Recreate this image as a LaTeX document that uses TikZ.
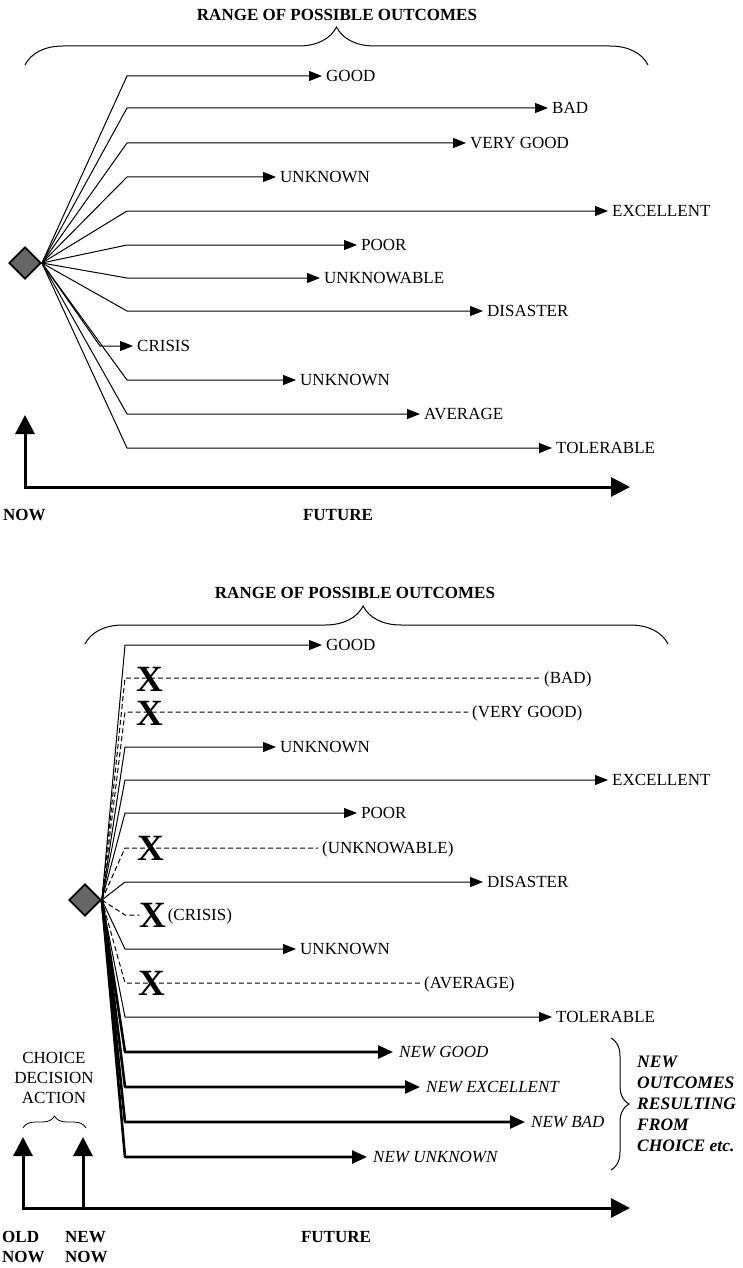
\documentclass[tikz,border=0pt]{standalone}
\usepackage{fontspec}
\setmainfont{Liberation Serif}
\usepackage{tikz}
\usetikzlibrary{positioning}
\usetikzlibrary{shapes.geometric}
\usetikzlibrary{arrows.meta}
\usetikzlibrary{decorations.pathreplacing}

\begin{document}
\begin{tikzpicture}[x=1pt, y=-1pt,
		decision/.style={
			draw,
			diamond,
			line width=1.8pt,
			fill=black!60,
			minimum size=32pt,
			inner sep=0pt,
		},
		branch/.style={line width=1pt, line join=round, -{Triangle[length=13pt,width=10pt]}},
		gone/.style={line width=1pt, dash pattern=on 5pt off 3pt},
		newbranch/.style={line width=2.6pt, line join=round, -{Triangle[length=15pt,width=13pt]}},
		axis/.style={line width=3pt, {Triangle[length=19pt,width=19pt]}-{Triangle[length=19pt,width=19pt]}},
		upaxis/.style={line width=3pt, -{Triangle[length=19pt,width=19pt]}},
		outcome/.style={anchor=west, inner xsep=4pt, inner ysep=0pt, text height=11pt, text depth=0pt, font=\fontsize{17}{20}\selectfont},
		newoutcome/.style={outcome, inner xsep=6pt, font=\fontsize{17}{20}\selectfont\itshape},
		heading/.style={inner sep=0pt, align=left, font=\fontsize{17}{20}\selectfont\bfseries},
		cross/.style={inner sep=0pt, text height=24pt, text depth=0pt, font=\fontsize{37}{37}\selectfont\bfseries},
		bracket/.style={decorate, line width=1pt},
	]
		\useasboundingbox (0,0) rectangle (742,1268);

		% before the choice
		\node[heading] (rangeA) at (337,15) {RANGE OF POSSIBLE OUTCOMES};
		\draw[bracket, decoration={brace, amplitude=38pt}] (25,65) -- (648,65);

		\node[decision] (dA) at (25,263) {};
		\coordinate (cA) at (127,0);
		\coordinate (cAs) at (100,0);

		\node[outcome] (goodA) at (322,76) {GOOD};
		\node[outcome] (badA) at (548,108) {BAD};
		\node[outcome] (verygoodA) at (466,143) {VERY GOOD};
		\node[outcome] (unknownA) at (276,177) {UNKNOWN};
		\node[outcome] (excellentA) at (608,211) {EXCELLENT};
		\node[outcome] (poorA) at (357,245) {POOR};
		\node[outcome] (unknowableA) at (320,278) {UNKNOWABLE};
		\node[outcome] (disasterA) at (483,311) {DISASTER};
		\node[outcome] (crisisA) at (133,346) {CRISIS};
		\node[outcome] (unknownAA) at (296,380) {UNKNOWN};
		\node[outcome] (averageA) at (420,414) {AVERAGE};
		\node[outcome] (tolerableA) at (552,448) {TOLERABLE};

		\draw[branch] (dA.east) -- (cA |- goodA.west) -- (goodA.west);
		\draw[branch] (dA.east) -- (cA |- badA.west) -- (badA.west);
		\draw[branch] (dA.east) -- (cA |- verygoodA.west) -- (verygoodA.west);
		\draw[branch] (dA.east) -- (cA |- unknownA.west) -- (unknownA.west);
		\draw[branch] (dA.east) -- (cA |- excellentA.west) -- (excellentA.west);
		\draw[branch] (dA.east) -- (cA |- poorA.west) -- (poorA.west);
		\draw[branch] (dA.east) -- (cA |- unknowableA.west) -- (unknowableA.west);
		\draw[branch] (dA.east) -- (cA |- disasterA.west) -- (disasterA.west);
		\draw[branch] (dA.east) -- (cAs |- crisisA.west) -- (crisisA.west);
		\draw[branch] (dA.east) -- (cA |- unknownAA.west) -- (unknownAA.west);
		\draw[branch] (dA.east) -- (cA |- averageA.west) -- (averageA.west);
		\draw[branch] (dA.east) -- (cA |- tolerableA.west) -- (tolerableA.west);

		\coordinate (upA) at (25,415);
		\coordinate (endA) at (630,487);
		\draw[axis] (upA) |- (endA);
		\node[heading, anchor=west] (nowA) at (3,515) {NOW};
		\node[heading] (futureA) at (338,515) {FUTURE};

		% after the choice
		\node[heading] (rangeB) at (355,593) {RANGE OF POSSIBLE OUTCOMES};
		\draw[bracket, decoration={brace, amplitude=38pt, aspect=0.477}] (85,644) -- (668,644);

		\node[decision] (dB) at (85,900) {};
		\coordinate (cB) at (125,0);

		\node[outcome] (goodB) at (322,645) {GOOD};
		\node[outcome] (badB) at (540,678) {(BAD)};
		\node[outcome] (verygoodB) at (468,712) {(VERY GOOD)};
		\node[outcome] (unknownB) at (276,747) {UNKNOWN};
		\node[outcome] (excellentB) at (608,780) {EXCELLENT};
		\node[outcome] (poorB) at (357,813) {POOR};
		\node[outcome] (unknowableB) at (318,848) {(UNKNOWABLE)};
		\node[outcome] (disasterB) at (483,882) {DISASTER};
		\node[cross] (xCrisis) at (153,915) {X};
		\node[outcome, inner xsep=1pt] (crisisB) at (xCrisis.east) {(CRISIS)};
		\node[outcome] (unknownBB) at (296,949) {UNKNOWN};
		\node[outcome] (averageB) at (420,983) {(AVERAGE)};
		\node[outcome] (tolerableB) at (552,1017) {TOLERABLE};

		\node[newoutcome] (newgood) at (393,1052) {NEW GOOD};
		\node[newoutcome] (newexcellent) at (420,1087) {NEW EXCELLENT};
		\node[newoutcome] (newbad) at (525,1122) {NEW BAD};
		\node[newoutcome] (newunknown) at (367,1157) {NEW UNKNOWN};

		\draw[branch] (dB.east) -- (cB |- goodB.west) -- (goodB.west);
		\draw[gone] (dB.east) -- (cB |- badB.west) -- (badB.west);
		\draw[gone] (dB.east) -- (cB |- verygoodB.west) -- (verygoodB.west);
		\draw[branch] (dB.east) -- (cB |- unknownB.west) -- (unknownB.west);
		\draw[branch] (dB.east) -- (cB |- excellentB.west) -- (excellentB.west);
		\draw[branch] (dB.east) -- (cB |- poorB.west) -- (poorB.west);
		\draw[gone] (dB.east) -- (cB |- unknowableB.west) -- (unknowableB.west);
		\draw[branch] (dB.east) -- (cB |- disasterB.west) -- (disasterB.west);
		\draw[gone] (dB.east) -- (cB |- xCrisis.west) -- (xCrisis.west);
		\draw[branch] (dB.east) -- (cB |- unknownBB.west) -- (unknownBB.west);
		\draw[gone] (dB.east) -- (cB |- averageB.west) -- (averageB.west);
		\draw[branch] (dB.east) -- (cB |- tolerableB.west) -- (tolerableB.west);

		\draw[newbranch] (dB.east) -- (cB |- newgood.west) -- (newgood.west);
		\draw[newbranch] (dB.east) -- (cB |- newexcellent.west) -- (newexcellent.west);
		\draw[newbranch] (dB.east) -- (cB |- newbad.west) -- (newbad.west);
		\draw[newbranch] (dB.east) -- (cB |- newunknown.west) -- (newunknown.west);

		\node[cross] (xBad) at (150,679) {X};
		\node[cross] (xVerygood) at (150,713) {X};
		\node[cross] (xUnknowable) at (151,848) {X};
		\node[cross] (xAverage) at (152,983) {X};

		\draw[bracket, decoration={brace, amplitude=18pt}] (611,1038) -- (611,1170);
		\node[heading, anchor=west, font=\fontsize{17.5}{21}\selectfont\bfseries\itshape] (resultB) at (637,1104) {NEW\\OUTCOMES\\RESULTING\\FROM\\CHOICE etc.};

		\node[align=center, inner sep=0pt, font=\fontsize{17}{20}\selectfont] (choiceB) at (54,1078) {CHOICE\\DECISION\\ACTION};
		\draw[bracket, line width=0.8pt, decoration={brace, amplitude=12pt}] (23,1128) -- (86,1128);

		\coordinate (upB) at (23,1137);
		\coordinate (newupB) at (83,1137);
		\coordinate (endB) at (630,1208);
		\draw[axis] (upB) |- (endB);
		\draw[upaxis] (newupB |- endB) -- (newupB);
		\node[heading, anchor=west] (oldnowB) at (2,1247) {OLD\\NOW};
		\node[heading, anchor=west] (newnowB) at (65,1247) {NEW\\NOW};
		\node[heading] (futureB) at (336,1237) {FUTURE};
	\end{tikzpicture}
\end{document}
